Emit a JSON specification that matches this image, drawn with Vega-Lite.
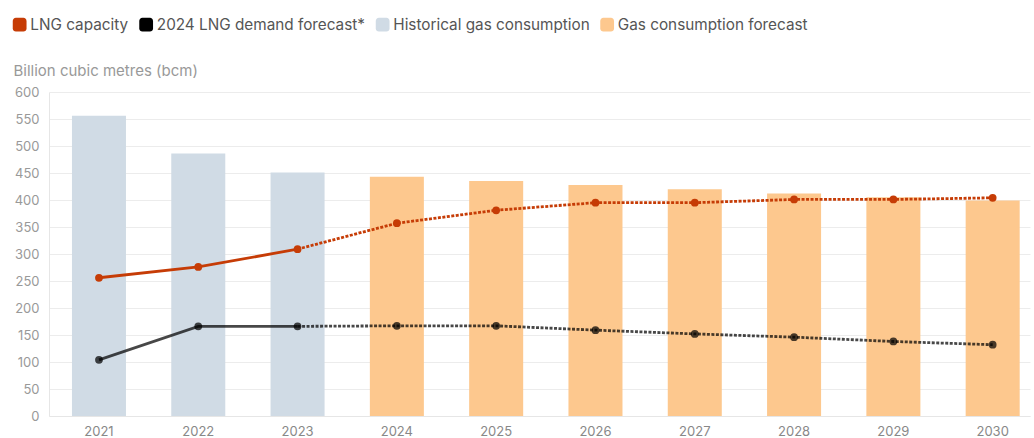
{
  "$schema": "https://vega.github.io/schema/vega-lite/v6.json",
  "width": 981,
  "height": 324,
  "autosize": {"type": "none"},
  "padding": {"left": 49, "top": 92, "right": 4, "bottom": 22},
  "background": "white",
  "config": {
    "view": {"stroke": null},
    "font": "Inter",
    "axis": {"labelFont": "Inter", "titleFont": "Inter"},
    "legend": {"labelFont": "Inter"}
  },
  "datasets": {
    "bars": [
      {"year": 2021, "series": "Historical gas consumption", "value": 556},
      {"year": 2022, "series": "Historical gas consumption", "value": 486},
      {"year": 2023, "series": "Historical gas consumption", "value": 451},
      {"year": 2024, "series": "Gas consumption forecast", "value": 443},
      {"year": 2025, "series": "Gas consumption forecast", "value": 435},
      {"year": 2026, "series": "Gas consumption forecast", "value": 428},
      {"year": 2027, "series": "Gas consumption forecast", "value": 420},
      {"year": 2028, "series": "Gas consumption forecast", "value": 412},
      {"year": 2029, "series": "Gas consumption forecast", "value": 405},
      {"year": 2030, "series": "Gas consumption forecast", "value": 399}
    ],
    "lines": [
      {"year": 2021, "series": "LNG capacity", "value": 256},
      {"year": 2022, "series": "LNG capacity", "value": 276},
      {"year": 2023, "series": "LNG capacity", "value": 309},
      {"year": 2024, "series": "LNG capacity", "value": 357},
      {"year": 2025, "series": "LNG capacity", "value": 381},
      {"year": 2026, "series": "LNG capacity", "value": 395},
      {"year": 2027, "series": "LNG capacity", "value": 395},
      {"year": 2028, "series": "LNG capacity", "value": 401},
      {"year": 2029, "series": "LNG capacity", "value": 401},
      {"year": 2030, "series": "LNG capacity", "value": 404},
      {"year": 2021, "series": "2024 LNG demand forecast*", "value": 104},
      {"year": 2022, "series": "2024 LNG demand forecast*", "value": 166},
      {"year": 2023, "series": "2024 LNG demand forecast*", "value": 166},
      {"year": 2024, "series": "2024 LNG demand forecast*", "value": 167},
      {"year": 2025, "series": "2024 LNG demand forecast*", "value": 167},
      {"year": 2026, "series": "2024 LNG demand forecast*", "value": 159},
      {"year": 2027, "series": "2024 LNG demand forecast*", "value": 152},
      {"year": 2028, "series": "2024 LNG demand forecast*", "value": 146},
      {"year": 2029, "series": "2024 LNG demand forecast*", "value": 138},
      {"year": 2030, "series": "2024 LNG demand forecast*", "value": 132}
    ]
  },
  "encoding": {
    "x": {
      "field": "year", "type": "ordinal",
      "scale": {"paddingInner": 0.456, "paddingOuter": 0.1675, "align": 0.69},
      "axis": {
        "title": null, "labelAngle": 0, "ticks": false, "grid": false,
        "domainColor": "#e6e6e6", "labelColor": "#888", "labelFontSize": 13, "labelPadding": 9
      }
    },
    "y": {
      "field": "value", "type": "quantitative",
      "scale": {"domain": [0, 600], "nice": false},
      "axis": {
        "values": [0, 50, 100, 150, 200, 250, 300, 350, 400, 450, 500, 550, 600],
        "title": "Billion cubic metres (bcm)",
        "titleAngle": 0, "titleAlign": "left", "titleBaseline": "middle",
        "titleX": -36, "titleY": -22, "titleFontSize": 15, "titleFontWeight": "normal", "titleColor": "#999",
        "ticks": false, "domain": true, "domainColor": "#e6e6e6",
        "gridColor": "#ececec", "labelColor": "#999", "labelFontSize": 13, "labelPadding": 10
      }
    },
    "color": {
      "field": "series", "type": "nominal",
      "scale": {
        "domain": ["LNG capacity", "2024 LNG demand forecast*", "Historical gas consumption", "Gas consumption forecast"],
        "range": ["#c63c06", "#000000", "#d0dbe5", "#fdc88e"]
      },
      "legend": {
        "title": null, "orient": "none", "direction": "horizontal",
        "legendX": -37, "legendY": -75,
        "symbolType": "M -0.55,-1 H 0.55 A 0.45,0.45 0 0 1 1,-0.55 V 0.55 A 0.45,0.45 0 0 1 0.55,1 H -0.55 A 0.45,0.45 0 0 1 -1,0.55 V -0.55 A 0.45,0.45 0 0 1 -0.55,-1 Z",
        "symbolSize": 190, "symbolStrokeWidth": 0, "symbolOpacity": 1,
        "labelFontSize": 15.3, "labelColor": "#555", "labelOffset": 3, "columnPadding": 9.5, "labelLimit": 0
      }
    }
  },
  "layer": [
    {"data": {"name": "bars"}, "mark": {"type": "bar"}},
    {
      "data": {"name": "lines"},
      "transform": [{"filter": "datum.year <= 2023"}],
      "mark": {"type": "line", "strokeWidth": 2.8},
      "encoding": {
        "opacity": {"condition": {"test": "datum.series === '2024 LNG demand forecast*'", "value": 0.72}, "value": 1}
      }
    },
    {
      "data": {"name": "lines"},
      "transform": [{"filter": "datum.year >= 2023"}],
      "mark": {"type": "line", "strokeWidth": 2.8, "strokeDash": [3, 1.5]},
      "encoding": {
        "opacity": {"condition": {"test": "datum.series === '2024 LNG demand forecast*'", "value": 0.72}, "value": 1}
      }
    },
    {
      "data": {"name": "lines"},
      "mark": {"type": "point", "filled": true, "size": 60},
      "encoding": {
        "opacity": {"condition": {"test": "datum.series === '2024 LNG demand forecast*'", "value": 0.72}, "value": 1}
      }
    }
  ]
}
